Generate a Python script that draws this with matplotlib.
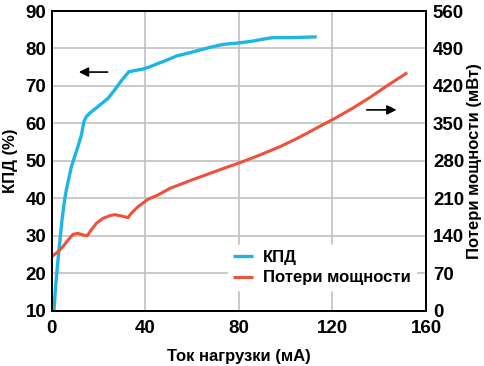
import matplotlib
matplotlib.use("Agg")
import matplotlib.pyplot as plt

# Data
eff_x = [1.0, 1.55, 2.4, 3.4, 4.4, 5.5, 6.25, 7.3, 8.4, 9.8, 11.2, 12.7, 13.8, 14.8, 16.2, 19.8, 24.1, 26.9, 29.8,
         33.0, 35.5, 39.0, 42.0, 45.4, 47.7, 53.4, 60.5, 67.7, 73.4, 80.5, 86.2, 90.5, 94.7, 103.3, 113.3]
eff_y = [10.2, 15.5, 21.7, 28.0, 34.2, 39.5, 42.2, 45.3, 48.4, 51.1, 53.8, 56.9, 60.5, 61.8, 62.7, 64.5, 66.7, 68.9, 71.4,
         73.8, 74.1, 74.5, 75.1, 76.0, 76.5, 78.0, 79.1, 80.3, 81.1, 81.5, 82.0, 82.5, 82.9, 82.9, 83.1]

loss_x = [0.0, 2.7, 4.8, 7.0, 9.1, 11.2, 13.4, 15.2, 16.9, 19.1, 21.9, 24.8, 26.9, 29.8, 32.6, 34.0, 36.9, 41.2,
          45.4, 50.6, 59.1, 67.7, 74.8, 80.5, 89.0, 97.6, 104.7, 110.4, 113.3, 121.1, 128.9, 136.1, 143.2, 152.0]
loss_y = [100.9, 110.3, 119.6, 132.1, 142.7, 144.6, 141.5, 140.2, 150.8, 163.3, 172.6, 177.5, 179.4, 177.0, 173.8, 182.0, 194.3, 208.2,
          216.2, 228.7, 243.0, 256.7, 268.0, 276.6, 291.0, 306.5, 321.5, 334.5, 341.5, 359.5, 379.0, 398.7, 419.9, 444.7]

x_ticks = [0, 40, 80, 120, 160]
left_ticks = [10, 20, 30, 40, 50, 60, 70, 80, 90]
right_ticks = [0, 70, 140, 210, 280, 350, 420, 490, 560]

blue = "#1db5e8"
red = "#f0503c"

plt.rcParams['font.family'] = ['Liberation Sans', 'DejaVu Sans']
plt.rcParams['font.weight'] = 'bold'

fig = plt.figure(figsize=(4.84, 3.66), dpi=100)
ax = fig.add_axes([51.7/484, 1 - 310.7/366, (426 - 51.7)/484, (310.7 - 11)/366])
ax2 = ax.twinx()

ax.set_xlim(0, 160)
ax.set_ylim(10, 90)
ax2.set_ylim(0, 560)
ax.set_xticks(x_ticks)
ax.set_yticks(left_ticks)
ax2.set_yticks(right_ticks)

ax.grid(True, color="#c0c0c0", linewidth=1.2)
ax.set_axisbelow(True)

l1, = ax.plot(eff_x, eff_y, color=blue, linewidth=2.4, label="КПД", solid_capstyle='butt', solid_joinstyle='round')
l2, = ax2.plot(loss_x, loss_y, color=red, linewidth=2.2, label="Потери мощности", solid_capstyle='butt', solid_joinstyle='round')

for a in (ax, ax2):
    for s in a.spines.values():
        s.set_linewidth(1.3)
        s.set_color("black")
    a.tick_params(length=0, labelsize=13.5)
ax.tick_params(axis='y', pad=4)
ax.tick_params(axis='x', pad=7)
ax2.tick_params(axis='y', pad=5)

ax.set_xlabel("Ток нагрузки (мА)", fontsize=12, fontweight='bold', labelpad=8)
ax.set_ylabel("КПД (%)", fontsize=12, fontweight='bold', labelpad=5)
ax2.set_ylabel("Потери мощности (мВт)", fontsize=12, fontweight='bold', labelpad=2)

# arrows
ax.annotate("", xy=(10.4, 73.7), xytext=(25.1, 73.7),
            arrowprops=dict(arrowstyle="-|>", color="black", lw=1.2, mutation_scale=14))
ax.annotate("", xy=(148.6, 63.6), xytext=(133.5, 63.6),
            arrowprops=dict(arrowstyle="-|>", color="black", lw=1.2, mutation_scale=14))

leg = ax2.legend([l1, l2], ["КПД", "Потери мощности"], loc="lower right",
                 bbox_to_anchor=(0.995, 0.04), frameon=True, fancybox=False,
                 edgecolor="white", framealpha=1.0,
                 handlelength=1.2, handletextpad=0.6, borderpad=0.3, labelspacing=0.35,
                 prop={'weight': 'bold', 'size': 12})

fig.savefig("out.png", dpi=100)
